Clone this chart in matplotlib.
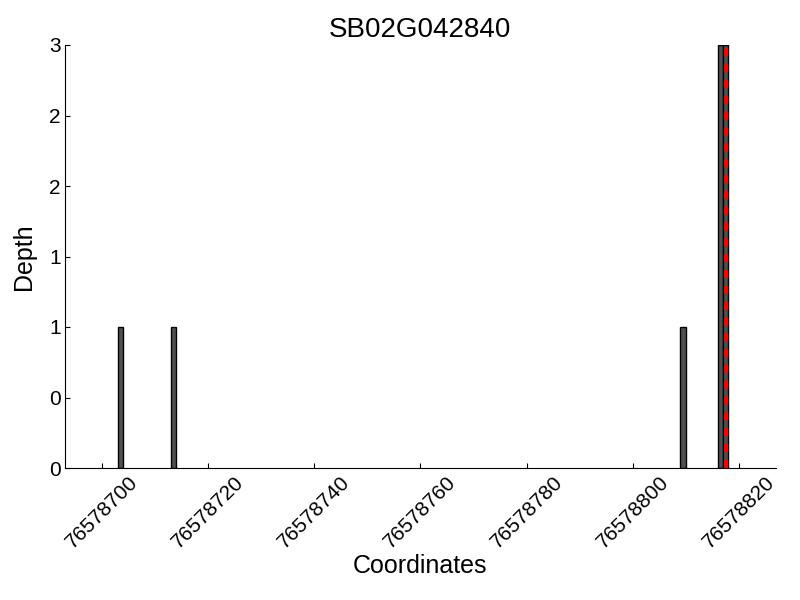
import matplotlib
matplotlib.use("Agg")
import matplotlib.pyplot as plt
from matplotlib.ticker import FormatStrFormatter

plt.rcParams['font.family'] = ['Liberation Sans', 'DejaVu Sans']

positions = [76578703, 76578713, 76578809, 76578816, 76578817]
depths = [1, 1, 1, 3, 3]
marker_pos = 76578817.5
title = "SB02G042840"

fig = plt.figure(figsize=(8, 6), dpi=100)
ax = fig.add_axes([0.081, 0.22, 0.889, 0.705])
ax.bar(positions, depths, width=1, align='edge', color='#505050',
       edgecolor='black', linewidth=1)
ax.axvline(marker_pos, color='red', linestyle='--', linewidth=3, dashes=(1.9, 1.9))
ax.set_xlim(76578693, 76578827)
ax.set_ylim(0, 3)
ax.set_xticks([76578700, 76578720, 76578740, 76578760, 76578780, 76578800, 76578820])
ax.xaxis.set_major_formatter(FormatStrFormatter('%d'))
ax.yaxis.set_major_formatter(FormatStrFormatter('%d'))
ax.set_yticks([0, 0.5, 1, 1.5, 2, 2.5, 3])
ax.spines['top'].set_visible(False)
ax.spines['right'].set_visible(False)
ax.tick_params(direction='in', labelsize=15, top=False, right=False, pad=3)
plt.setp(ax.get_xticklabels(), rotation=45)
ax.set_xlabel('Coordinates', fontsize=18, labelpad=2)
ax.set_ylabel('Depth', fontsize=18, labelpad=9)
ax.set_title(title, fontsize=20)
fig.savefig('out.png', dpi=100)
